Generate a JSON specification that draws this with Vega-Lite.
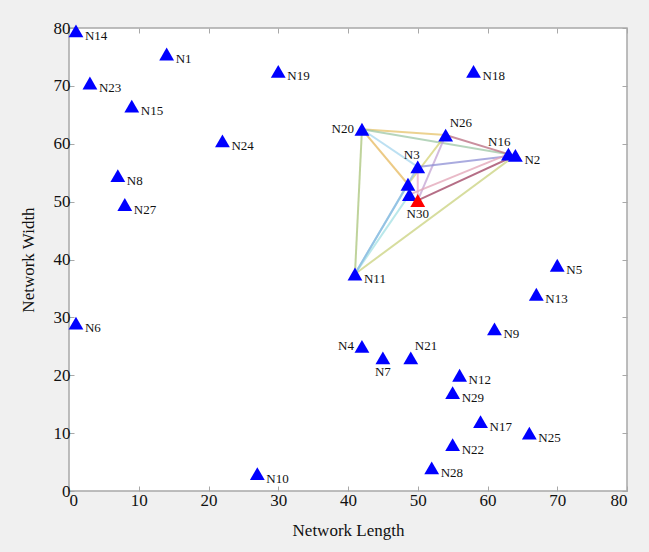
{
  "$schema": "https://vega.github.io/schema/vega-lite/v6.json",
  "width": 558,
  "height": 463,
  "autosize": {"type": "none"},
  "padding": {"left": 69, "top": 28, "right": 22, "bottom": 61},
  "background": "#f0f0f0",
  "resolve": {"axis": {"x": "independent", "y": "independent"}},
  "config": {
    "view": {"fill": "white", "stroke": "#a8a8a8", "strokeWidth": 1.5},
    "font": "Liberation Serif",
    "axis": {
      "labelFont": "Liberation Serif",
      "titleFont": "Liberation Serif",
      "labelFontSize": 17,
      "titleFontSize": 17,
      "titleFontWeight": "normal",
      "labelColor": "#111",
      "titleColor": "#111",
      "gridColor": "#e6e6e6",
      "gridWidth": 1,
      "tickColor": "#a8a8a8",
      "domain": false
    }
  },
  "datasets": {
    "nodes": [
      {"name": "N1", "x": 14, "y": 75.5, "kind": "node"},
      {"name": "N2", "x": 64, "y": 58, "kind": "node"},
      {"name": "N3", "x": 50, "y": 56, "kind": "node"},
      {"name": "N4", "x": 42, "y": 25, "kind": "node"},
      {"name": "N5", "x": 70, "y": 39, "kind": "node"},
      {"name": "N6", "x": 1, "y": 29, "kind": "node"},
      {"name": "N7", "x": 45, "y": 23, "kind": "node"},
      {"name": "N8", "x": 7, "y": 54.5, "kind": "node"},
      {"name": "N9", "x": 61, "y": 28, "kind": "node"},
      {"name": "N10", "x": 27, "y": 3, "kind": "node"},
      {"name": "N11", "x": 41, "y": 37.5, "kind": "node"},
      {"name": "N12", "x": 56, "y": 20, "kind": "node"},
      {"name": "N13", "x": 67, "y": 34, "kind": "node"},
      {"name": "N14", "x": 1, "y": 79.5, "kind": "node"},
      {"name": "N15", "x": 9, "y": 66.5, "kind": "node"},
      {"name": "N16", "x": 63, "y": 58.2, "kind": "node"},
      {"name": "N17", "x": 59, "y": 12, "kind": "node"},
      {"name": "N18", "x": 58, "y": 72.5, "kind": "node"},
      {"name": "N19", "x": 30, "y": 72.5, "kind": "node"},
      {"name": "N20", "x": 42, "y": 62.5, "kind": "node"},
      {"name": "N21", "x": 49, "y": 23, "kind": "node"},
      {"name": "N22", "x": 55, "y": 8, "kind": "node"},
      {"name": "N23", "x": 3, "y": 70.5, "kind": "node"},
      {"name": "N24", "x": 22, "y": 60.5, "kind": "node"},
      {"name": "N25", "x": 66, "y": 10, "kind": "node"},
      {"name": "N26", "x": 54, "y": 61.5, "kind": "node"},
      {"name": "N27", "x": 8, "y": 49.5, "kind": "node"},
      {"name": "N28", "x": 52, "y": 4, "kind": "node"},
      {"name": "N29", "x": 55, "y": 17, "kind": "node"},
      {"name": "N30", "x": 50, "y": 50.2, "kind": "sink"},
      {"name": "", "x": 48.6, "y": 53, "kind": "node"},
      {"name": "", "x": 48.8, "y": 51.2, "kind": "node"}
    ],
    "edges": [
      {"edge": "e01", "o": 0, "x": 42, "y": 62.5}, {"edge": "e01", "o": 1, "x": 54, "y": 61.5},
      {"edge": "e02", "o": 0, "x": 42, "y": 62.5}, {"edge": "e02", "o": 1, "x": 64, "y": 58},
      {"edge": "e03", "o": 0, "x": 42, "y": 62.5}, {"edge": "e03", "o": 1, "x": 50, "y": 56},
      {"edge": "e04", "o": 0, "x": 42, "y": 62.5}, {"edge": "e04", "o": 1, "x": 48.6, "y": 53},
      {"edge": "e05", "o": 0, "x": 42, "y": 62.5}, {"edge": "e05", "o": 1, "x": 41, "y": 37.5},
      {"edge": "e06", "o": 0, "x": 54, "y": 61.5}, {"edge": "e06", "o": 1, "x": 63, "y": 58.2},
      {"edge": "e07", "o": 0, "x": 54, "y": 61.5}, {"edge": "e07", "o": 1, "x": 50, "y": 50.2},
      {"edge": "e08", "o": 0, "x": 54, "y": 61.5}, {"edge": "e08", "o": 1, "x": 48.6, "y": 53},
      {"edge": "e09", "o": 0, "x": 50, "y": 56}, {"edge": "e09", "o": 1, "x": 64, "y": 58},
      {"edge": "e10", "o": 0, "x": 50, "y": 50.2}, {"edge": "e10", "o": 1, "x": 64, "y": 58},
      {"edge": "e11", "o": 0, "x": 48.8, "y": 51.2}, {"edge": "e11", "o": 1, "x": 63, "y": 58.2},
      {"edge": "e12", "o": 0, "x": 41, "y": 37.5}, {"edge": "e12", "o": 1, "x": 64, "y": 58},
      {"edge": "e13", "o": 0, "x": 41, "y": 37.5}, {"edge": "e13", "o": 1, "x": 48.6, "y": 53},
      {"edge": "e14", "o": 0, "x": 41, "y": 37.5}, {"edge": "e14", "o": 1, "x": 48.8, "y": 51.2},
      {"edge": "e15", "o": 0, "x": 41, "y": 37.5}, {"edge": "e15", "o": 1, "x": 50, "y": 56},
      {"edge": "e16", "o": 0, "x": 50, "y": 56}, {"edge": "e16", "o": 1, "x": 50, "y": 50.2}
    ]
  },
  "layer": [
    {
      "data": {"name": "edges"},
      "mark": {"type": "line", "strokeWidth": 2, "opacity": 0.75},
      "encoding": {
        "x": {"field": "x", "type": "quantitative", "scale": {"domain": [0, 80]},
              "axis": {"orient": "top", "labels": false, "grid": false, "title": null, "tickSize": -5, "values": [0, 10, 20, 30, 40, 50, 60, 70, 80]}},
        "y": {"field": "y", "type": "quantitative", "scale": {"domain": [0, 80]},
              "axis": {"orient": "right", "labels": false, "grid": false, "title": null, "tickSize": -5, "values": [0, 10, 20, 30, 40, 50, 60, 70, 80]}},
        "detail": {"field": "edge"},
        "order": {"field": "o"},
        "color": {"field": "edge", "type": "nominal", "legend": null,
                  "scale": {"domain": ["e01","e02","e03","e04","e05","e06","e07","e08","e09","e10","e11","e12","e13","e14","e15","e16"],
                            "range": ["#e5c36b","#9ec7a6","#a6d5ee","#e6b85c","#a9c47a","#b86a7e","#c3a3d3","#d4d276","#8e8fd4","#9c3d5e","#e2a3b5","#c9d27e","#7cc3e0","#a3e0e3","#92bde3","#e5a9c9"]}}
      }
    },
    {
      "data": {"name": "nodes"},
      "transform": [{"filter": "datum.kind === 'node'"}],
      "mark": {"type": "point", "shape": "triangle-up", "filled": true, "color": "#0000ff", "size": 220, "opacity": 1},
      "encoding": {
        "x": {"field": "x", "type": "quantitative",
              "axis": {"orient": "bottom", "title": "Network Length", "tickSize": -5, "labelPadding": 6, "titlePadding": 14, "values": [0, 10, 20, 30, 40, 50, 60, 70, 80]}},
        "y": {"field": "y", "type": "quantitative",
              "axis": {"orient": "left", "title": "Network Width", "tickSize": -5, "labelPadding": 4, "titlePadding": 16, "values": [0, 10, 20, 30, 40, 50, 60, 70, 80]}}
      }
    },
    {
      "data": {"name": "nodes"},
      "transform": [{"filter": "datum.kind === 'sink'"}],
      "mark": {"type": "point", "shape": "triangle-up", "filled": true, "color": "#ff0000", "size": 220, "opacity": 1},
      "encoding": {
        "x": {"field": "x", "type": "quantitative", "axis": null},
        "y": {"field": "y", "type": "quantitative", "axis": null}
      }
    },
    {
      "data": {"name": "nodes"},
      "transform": [{"filter": {"field": "name", "oneOf": ["N1","N2","N5","N6","N8","N9","N10","N11","N12","N13","N14","N15","N17","N18","N19","N22","N23","N24","N25","N27","N28","N29"]}}],
      "mark": {"type": "text", "align": "left", "baseline": "middle", "dx": 9, "dy": 5, "fontSize": 13, "font": "Liberation Serif", "color": "#111"},
      "encoding": {
        "x": {"field": "x", "type": "quantitative", "axis": null},
        "y": {"field": "y", "type": "quantitative", "axis": null},
        "text": {"field": "name"}
      }
    },
    {
      "data": {"name": "nodes"},
      "transform": [{"filter": {"field": "name", "oneOf": ["N20","N4"]}}],
      "mark": {"type": "text", "align": "right", "baseline": "middle", "dx": -8, "dy": 0, "fontSize": 13, "font": "Liberation Serif", "color": "#111"},
      "encoding": {
        "x": {"field": "x", "type": "quantitative", "axis": null},
        "y": {"field": "y", "type": "quantitative", "axis": null},
        "text": {"field": "name"}
      }
    },
    {
      "data": {"name": "nodes"},
      "transform": [{"filter": {"field": "name", "oneOf": ["N3","N16"]}}],
      "mark": {"type": "text", "align": "right", "baseline": "middle", "dx": 2, "dy": -12, "fontSize": 13, "font": "Liberation Serif", "color": "#111"},
      "encoding": {
        "x": {"field": "x", "type": "quantitative", "axis": null},
        "y": {"field": "y", "type": "quantitative", "axis": null},
        "text": {"field": "name"}
      }
    },
    {
      "data": {"name": "nodes"},
      "transform": [{"filter": {"field": "name", "oneOf": ["N26","N21"]}}],
      "mark": {"type": "text", "align": "left", "baseline": "middle", "dx": 4, "dy": -12, "fontSize": 13, "font": "Liberation Serif", "color": "#111"},
      "encoding": {
        "x": {"field": "x", "type": "quantitative", "axis": null},
        "y": {"field": "y", "type": "quantitative", "axis": null},
        "text": {"field": "name"}
      }
    },
    {
      "data": {"name": "nodes"},
      "transform": [{"filter": {"field": "name", "oneOf": ["N30","N7"]}}],
      "mark": {"type": "text", "align": "center", "baseline": "middle", "dx": 0, "dy": 14, "fontSize": 13, "font": "Liberation Serif", "color": "#111"},
      "encoding": {
        "x": {"field": "x", "type": "quantitative", "axis": null},
        "y": {"field": "y", "type": "quantitative", "axis": null},
        "text": {"field": "name"}
      }
    }
  ]
}
